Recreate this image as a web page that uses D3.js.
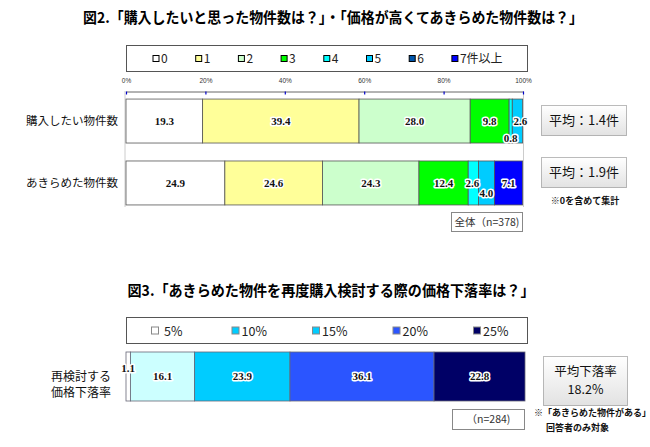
<!DOCTYPE html>
<html><head><meta charset="utf-8">
<script src="https://cdn.jsdelivr.net/npm/d3@7"></script>
<style>
body{margin:0;background:#fff;}
svg{display:block;}
</style></head>
<body>
<script>
// ---- Data ----
const title1 = "図2.「購入したいと思った物件数は？」・「価格が高くてあきらめた物件数は？」";
const categories1 = ["購入したい物件数", "あきらめた物件数"];
const series1 = ["0", "1", "2", "3", "4", "5", "6", "7件以上"];
const buyValues = [19.3, 39.4, 28.0, 9.8, 0.8, 2.6, 0, 0];
const gaveUpValues = [24.9, 24.6, 24.3, 12.4, 2.6, 4.0, 0, 7.1];
const averages1 = ["平均：1.4件", "平均：1.9件"];
const ticks1 = [0, 20, 40, 60, 80, 100];
const note1 = "※0を含めて集計";
const sample1 = "全体（n=378)";

const title2 = "図3.「あきらめた物件を再度購入検討する際の価格下落率は？」";
const categories2 = ["再検討する", "価格下落率"];
const series2 = ["5%", "10%", "15%", "20%", "25%"];
const dropValues = [1.1, 16.1, 23.9, 36.1, 22.8];
const average2 = ["平均下落率", "18.2%"];
const note2 = ["※「あきらめた物件がある」", "回答者のみ対象"];
const sample2 = "（n=284)";

const colors1 = ["#FFFFFF", "#FFFF99", "#CCFFCC", "#00FF00", "#00FFFF", "#00CCFF", "#0055AA", "#0000FF"];
const colors2 = ["#FFFFFF", "#CCFFFF", "#00CCFF", "#2B55FF", "#000066"];

// ---- Setup ----
const W = 650, H = 447;
const JP = "'Noto Sans CJK JP', 'Noto Sans', sans-serif";
const SERIF = "'Liberation Serif', 'DejaVu Serif', serif";
const svg = d3.select("body").append("svg").attr("width", W).attr("height", H);
const defs = svg.append("defs");
const grad = defs.append("linearGradient").attr("id", "boxg").attr("x1", 0).attr("y1", 0).attr("x2", 0).attr("y2", 1);
grad.append("stop").attr("offset", "0%").attr("stop-color", "#ffffff");
grad.append("stop").attr("offset", "100%").attr("stop-color", "#e2e2e2");

function fmt(v){ return d3.format(".1f")(v); }

// ===== Chart 1 =====
svg.append("text").attr("x", 333).attr("y", 23).attr("text-anchor", "middle")
  .attr("font-family", JP).attr("font-weight", "bold").attr("font-size", 15)
  .attr("textLength", 500).attr("lengthAdjust", "spacingAndGlyphs").text(title1);

// legend 1
svg.append("rect").attr("x", 126.5).attr("y", 45.5).attr("width", 401).attr("height", 26)
  .attr("fill", "#fff").attr("stroke", "#555");
const lg1 = svg.append("g");
series1.forEach((s, i) => {
  const cx = 156 + i * 42.7;
  lg1.append("rect").attr("x", cx - 3).attr("y", 55.5).attr("width", 6).attr("height", 6)
    .attr("fill", colors1[i]).attr("stroke", "#000").attr("stroke-width", 1);
  lg1.append("text").attr("x", cx + 5).attr("y", 63).attr("font-family", JP)
    .attr("font-size", 12).attr("fill", "#222").text(s);
});

const x1 = d3.scaleLinear().domain([0, 100]).range([126, 523]);
const y1 = d3.scaleBand().domain(categories1).range([91, 213]).paddingInner(0.29).paddingOuter(0.13);

// frame
svg.append("line").attr("x1", 125).attr("x2", 125).attr("y1", 91).attr("y2", 207).attr("stroke", "#ccc");
svg.append("line").attr("x1", 523.5).attr("x2", 523.5).attr("y1", 91).attr("y2", 207).attr("stroke", "#ccc");

const ax = svg.append("g").attr("transform", "translate(0,91.5)")
  .call(d3.axisTop(x1).tickValues(ticks1).tickFormat(d => d + "%").tickSizeInner(-3).tickSizeOuter(0).tickPadding(9));
ax.select(".domain").attr("stroke", "#666");
ax.selectAll(".tick line").attr("stroke", "#0000CC").attr("stroke-width", 1.2);
ax.selectAll(".tick text").attr("font-family", "'Liberation Sans', Arial, sans-serif").attr("font-size", 6.5).attr("fill", "#333");

const rows1 = [buyValues, gaveUpValues];
const tbl1 = rows1.map((vals, r) => {
  const o = { cat: categories1[r] };
  series1.forEach((s, i) => o[s] = vals[i]);
  return o;
});
const stack1 = d3.stack().keys(series1)(tbl1);
const g1 = svg.append("g");
stack1.forEach((layer, i) => {
  g1.selectAll(null).data(layer.filter(d => d[1] - d[0] > 0)).enter().append("rect")
    .attr("x", d => x1(d[0])).attr("width", d => x1(d[1]) - x1(d[0]))
    .attr("y", d => y1(d.data.cat)).attr("height", y1.bandwidth())
    .attr("fill", colors1[i]).attr("stroke", "#555").attr("stroke-width", 0.8);
});
// labels chart1
tbl1.forEach((row, r) => {
  let prevNarrow = false, prevLowered = false;
  series1.forEach((s, i) => {
    const layer = stack1[i][r];
    const v = layer[1] - layer[0];
    if (v <= 0) return;
    const w = x1(layer[1]) - x1(layer[0]);
    const narrow = w < 22;
    let lower = false;
    if (v < 1) lower = true;
    else if (narrow && prevNarrow && !prevLowered) lower = true;
    const cy = y1(row.cat) + y1.bandwidth() / 2 + (lower ? (v < 1 ? 17 : 10) : 0);
    const cx = (x1(layer[0]) + x1(layer[1])) / 2 + (narrow && !lower && prevLowered ? 3 : 0) + (narrow && !lower && !prevNarrow ? -1 : 0);
    g1.append("text").attr("x", cx).attr("y", cy).attr("dy", "0.35em")
      .attr("text-anchor", "middle").attr("font-family", SERIF).attr("font-size", 11)
      .attr("font-weight", "bold")
      .attr("stroke", "#fff").attr("stroke-width", 3).attr("paint-order", "stroke")
      .attr("stroke-linejoin", "round").attr("fill", "#111").text(fmt(v));
    prevNarrow = narrow; prevLowered = lower;
  });
});

// category labels
categories1.forEach(c => {
  svg.append("text").attr("x", 118).attr("y", y1(c) + y1.bandwidth() / 2).attr("dy", "0.35em")
    .attr("text-anchor", "end").attr("font-family", JP).attr("font-size", 11.5).attr("fill", "#111").text(c);
});

// average boxes (placed to the right of the plot)
const avgBoxTops = [105, 157];
averages1.forEach((t, r) => {
  const top = avgBoxTops[r];
  svg.append("rect").attr("x", 541.5).attr("y", top + 0.5).attr("width", 85).attr("height", 30)
    .attr("fill", "url(#boxg)").attr("stroke", "#777").attr("stroke-dasharray", "1,1");
  svg.append("text").attr("x", 584).attr("y", top + 15.5).attr("dy", "0.36em").attr("text-anchor", "middle")
    .attr("font-family", JP).attr("font-size", 13).attr("fill", "#111").text(t);
});
svg.append("text").attr("x", 585).attr("y", 204).attr("text-anchor", "middle")
  .attr("font-family", JP).attr("font-weight", "bold").attr("font-size", 9).attr("fill", "#111").text(note1);
svg.append("rect").attr("x", 451.5).attr("y", 212.5).attr("width", 71).attr("height", 19)
  .attr("fill", "#fff").attr("stroke", "#888");
svg.append("text").attr("x", 487).attr("y", 222).attr("dy", "0.36em").attr("text-anchor", "middle")
  .attr("font-family", JP).attr("font-size", 10.5).attr("fill", "#333").text(sample1);

// ===== Chart 2 =====
svg.append("text").attr("x", 331).attr("y", 296).attr("text-anchor", "middle")
  .attr("font-family", JP).attr("font-weight", "bold").attr("font-size", 15)
  .attr("textLength", 407).attr("lengthAdjust", "spacingAndGlyphs").text(title2);

svg.append("rect").attr("x", 126.5).attr("y", 317.5).attr("width", 401).attr("height", 26)
  .attr("fill", "#fff").attr("stroke", "#555");
series2.forEach((s, i) => {
  const cx = 155 + i * 80.5;
  svg.append("rect").attr("x", cx - 3.5).attr("y", 327).attr("width", 7).attr("height", 7)
    .attr("fill", i === 1 ? colors2[2] : colors2[i]).attr("stroke", "#888");
  svg.append("text").attr("x", cx + 6 + (s.length < 3 ? 3 : 0)).attr("y", 335.5).attr("font-family", JP)
    .attr("font-size", 12.5).attr("fill", "#222").text(s);
});

const x2 = d3.scaleLinear().domain([0, 100]).range([126, 525]);
const y2 = d3.scaleBand().domain(["drop"]).range([352, 401]);
const tbl2 = [(() => { const o = { cat: "drop" }; series2.forEach((s, i) => o[s] = dropValues[i]); return o; })()];
const stack2 = d3.stack().keys(series2)(tbl2);
const g2 = svg.append("g");
stack2.forEach((layer, i) => {
  g2.selectAll(null).data(layer).enter().append("rect")
    .attr("x", d => x2(d[0])).attr("width", d => x2(d[1]) - x2(d[0]))
    .attr("y", d => y2(d.data.cat)).attr("height", y2.bandwidth())
    .attr("fill", colors2[i]).attr("stroke", "#667").attr("stroke-width", 0.8);
});
stack2.forEach((layer, i) => {
  const d = layer[0];
  const v = d[1] - d[0];
  const narrow = x2(d[1]) - x2(d[0]) < 20;
  g2.append("text").attr("x", (x2(d[0]) + x2(d[1])) / 2)
    .attr("y", y2("drop") + y2.bandwidth() / 2 + (narrow ? -8 : 0)).attr("dy", "0.35em")
    .attr("text-anchor", "middle").attr("font-family", SERIF).attr("font-size", 11)
    .attr("font-weight", "bold")
    .attr("stroke", "#fff").attr("stroke-width", 3).attr("paint-order", "stroke")
    .attr("stroke-linejoin", "round").attr("fill", "#111").text(fmt(v));
});
categories2.forEach((c, i) => {
  svg.append("text").attr("x", 111).attr("y", 377 + i * 15.5).attr("dy", "0.35em")
    .attr("text-anchor", "end").attr("font-family", JP).attr("font-size", 12).attr("fill", "#111").text(c);
});
svg.append("rect").attr("x", 543.5).attr("y", 356.5).attr("width", 84).attr("height", 49)
  .attr("fill", "url(#boxg)").attr("stroke", "#777").attr("stroke-dasharray", "1,1");
average2.forEach((t, i) => {
  svg.append("text").attr("x", 585.5).attr("y", 371 + i * 18.5).attr("dy", "0.36em").attr("text-anchor", "middle")
    .attr("font-family", JP).attr("font-size", 12.5).attr("fill", "#111").text(t);
});
svg.append("rect").attr("x", 452.5).attr("y", 409.5).attr("width", 72).attr("height", 20)
  .attr("fill", "#fff").attr("stroke", "#888");
svg.append("text").attr("x", 488.5).attr("y", 419.5).attr("dy", "0.36em").attr("text-anchor", "middle")
  .attr("font-family", JP).attr("font-size", 10.5).attr("fill", "#333").text(sample2);
svg.append("text").attr("x", 534).attr("y", 416).attr("font-family", JP).attr("font-weight", "bold")
  .attr("font-size", 9).attr("fill", "#111").text(note2[0]);
svg.append("text").attr("x", 546).attr("y", 431).attr("font-family", JP).attr("font-weight", "bold")
  .attr("font-size", 9).attr("fill", "#111").text(note2[1]);
</script>
</body></html>
